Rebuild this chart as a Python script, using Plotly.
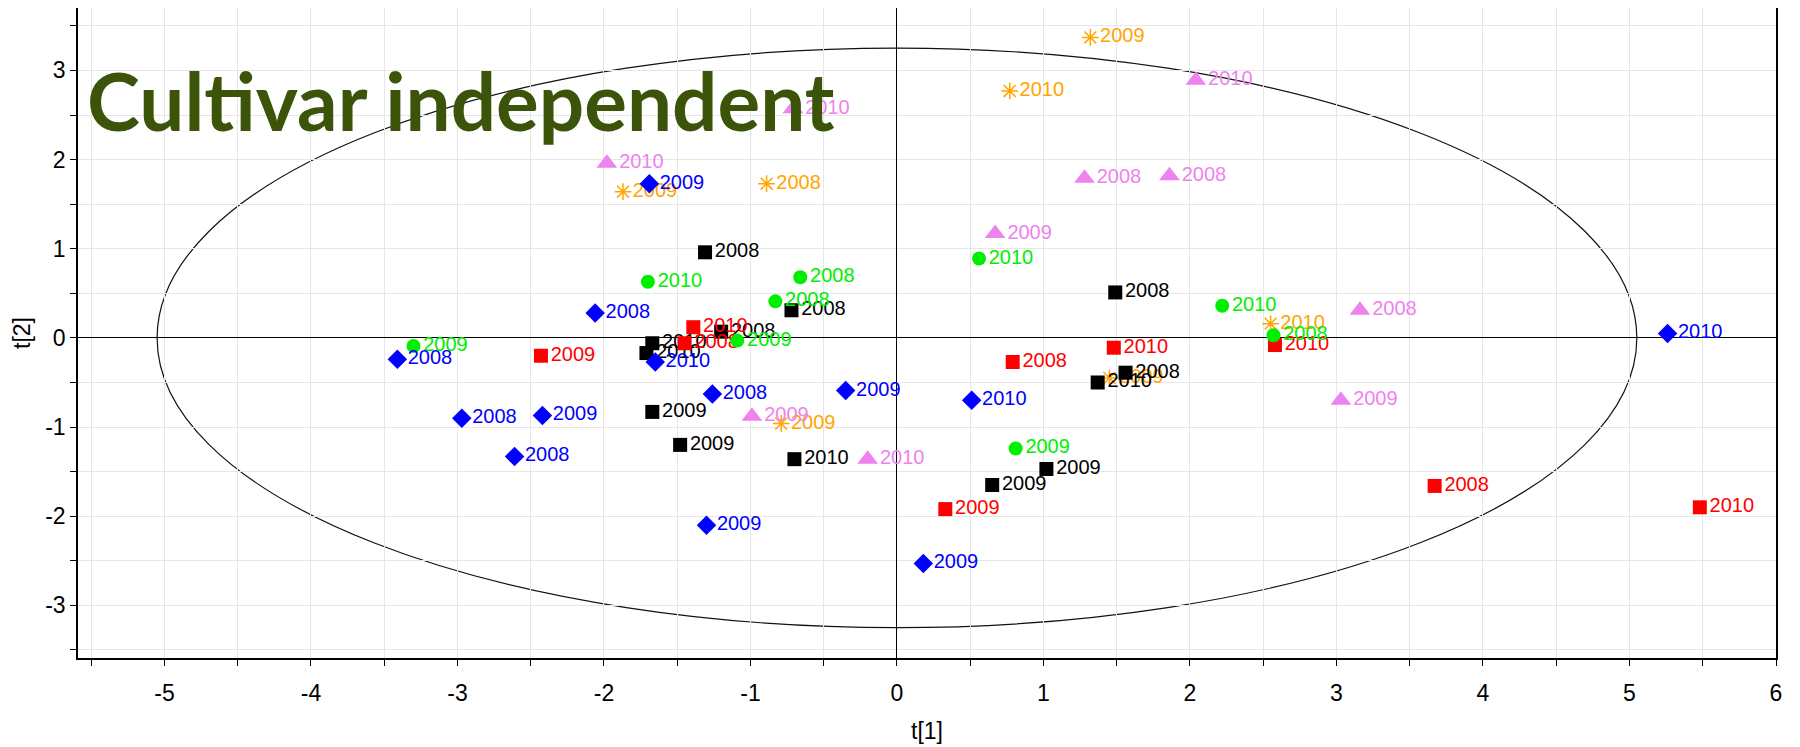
import plotly.graph_objects as go

# ---- data (t[1], t[2], year label) per group ----
blue_x = [-3.41, -2.97, -2.42, -2.61, -2.06, -1.69, -1.65, -1.26, -0.35, 0.51, 5.26, 0.18, -1.30]
blue_y = [-0.24, -0.90, -0.87, -1.33, 0.28, 1.73, -0.27, -0.63, -0.59, -0.70, 0.05, -2.53, -2.10]
blue_lbl = ["2008", "2008", "2009", "2008", "2008", "2009", "2010", "2008", "2009", "2010", "2010", "2009", "2009"]

red_x = [-2.43, -1.39, -1.45, 1.48, 0.79, 2.58, 3.67, 0.33, 5.48]
red_y = [-0.20, 0.12, -0.06, -0.11, -0.27, -0.08, -1.66, -1.92, -1.90]
red_lbl = ["2009", "2010", "2008", "2010", "2008", "2010", "2008", "2009", "2010"]

black_x = [-1.31, -0.72, -1.20, -1.67, -1.71, 1.49, 1.56, 1.37, -1.67, -1.48, -0.70, 1.02, 0.65]
black_y = [0.96, 0.31, 0.07, -0.06, -0.17, 0.51, -0.39, -0.50, -0.83, -1.20, -1.36, -1.47, -1.65]
black_lbl = ["2008", "2008", "2008", "2010", "2010", "2008", "2008", "2010", "2009", "2009", "2010", "2009", "2009"]

green_x = [-3.30, -1.70, -0.66, -0.83, 0.56, -1.09, 0.81, 2.22, 2.57]
green_y = [-0.09, 0.63, 0.68, 0.41, 0.89, -0.03, -1.24, 0.36, 0.03]
green_lbl = ["2009", "2010", "2008", "2008", "2010", "2009", "2009", "2010", "2008"]

pink_x = [-0.71, -1.98, 1.28, 1.86, 0.67, 2.04, -0.99, -0.20, 3.16, 3.03]
pink_y = [2.57, 1.96, 1.79, 1.82, 1.17, 2.89, -0.88, -1.36, 0.31, -0.70]
pink_lbl = ["2010", "2010", "2008", "2008", "2009", "2010", "2009", "2010", "2008", "2009"]

orange_x = [1.32, 0.77, -1.87, -0.89, -0.79, 2.55, 1.45]
orange_y = [3.37, 2.77, 1.64, 1.73, -0.96, 0.16, -0.45]
orange_lbl = ["2009", "2010", "2009", "2008", "2009", "2010", "2009"]

x_ticks = [-5, -4, -3, -2, -1, 0, 1, 2, 3, 4, 5, 6]
y_ticks = [-3, -2, -1, 0, 1, 2, 3]
ellipse_t1 = 5.05
ellipse_t2 = 3.25
title_text = "Cultivar independent"

LABEL_FONT = "Liberation Sans, Arial, sans-serif"

groups = [
    (orange_x, orange_y, orange_lbl, "#FFA500", "asterisk-open", 14),
    (pink_x, pink_y, pink_lbl, "#EE82EE", "triangle-up", 18),
    (black_x, black_y, black_lbl, "#000000", "square", 14),
    (red_x, red_y, red_lbl, "#FF0000", "square", 14),
    (green_x, green_y, green_lbl, "#00EE00", "circle", 14),
    (blue_x, blue_y, blue_lbl, "#0000FF", "diamond", 15),
]

fig = go.Figure()
for gx, gy, gl, col, sym, sz in groups:
    mk = dict(color=col, symbol=sym, size=sz)
    if sym == "asterisk-open":
        mk["line"] = dict(color=col, width=1.5)
    else:
        mk["line"] = dict(width=0)
    fig.add_trace(go.Scatter(
        x=gx, y=gy, text=gl, mode="markers+text",
        textposition="middle right",
        textfont=dict(family=LABEL_FONT, size=20, color=col),
        marker=mk, showlegend=False, cliponaxis=False,
    ))

fig.add_shape(type="circle", xref="x", yref="y",
              x0=-ellipse_t1, x1=ellipse_t1, y0=-ellipse_t2, y1=ellipse_t2,
              line=dict(color="#111111", width=1.2), layer="below")

fig.add_annotation(x=-5.54, y=2.67, xref="x", yref="y", xanchor="left", yanchor="middle",
                   text="<b>" + title_text + "</b>", showarrow=False,
                   font=dict(family="Lato", size=80, color="#3B540A"))

grid_col = "#E6E6E6"
axis_common = dict(
    showline=True, linecolor="black", linewidth=1.5, mirror=True,
    ticks="outside", ticklen=6, tickcolor="black", tickwidth=1,
    showgrid=True, gridcolor=grid_col, gridwidth=1,
    zeroline=True, zerolinecolor="black", zerolinewidth=1,
    tickfont=dict(family=LABEL_FONT, size=23, color="black"),
    title_font=dict(family=LABEL_FONT, size=23, color="black"),
)

fig.update_xaxes(range=[-5.59, 6.0], tickvals=x_ticks, ticktext=[str(v) for v in x_ticks],
                 minor=dict(dtick=0.5, tick0=0, ticks="outside", ticklen=6, tickcolor="black",
                            showgrid=True, gridcolor=grid_col),
                 title_text="t[1]", title_standoff=18, ticklabelstandoff=8, **axis_common)
fig.update_yaxes(range=[-3.59, 3.70], tickvals=y_ticks, ticktext=[str(v) for v in y_ticks],
                 minor=dict(dtick=0.5, tick0=0, ticks="outside", ticklen=6, tickcolor="black",
                            showgrid=True, gridcolor=grid_col),
                 title_text="t[2]", title_standoff=8, **axis_common)

# page body has an 8px default margin, so the figure is offset by 8px
fig.update_layout(width=1792, height=739, margin=dict(l=70, r=24, t=0, b=89, autoexpand=False),
                  plot_bgcolor="white", paper_bgcolor="white")

fig.write_html("out.html")
